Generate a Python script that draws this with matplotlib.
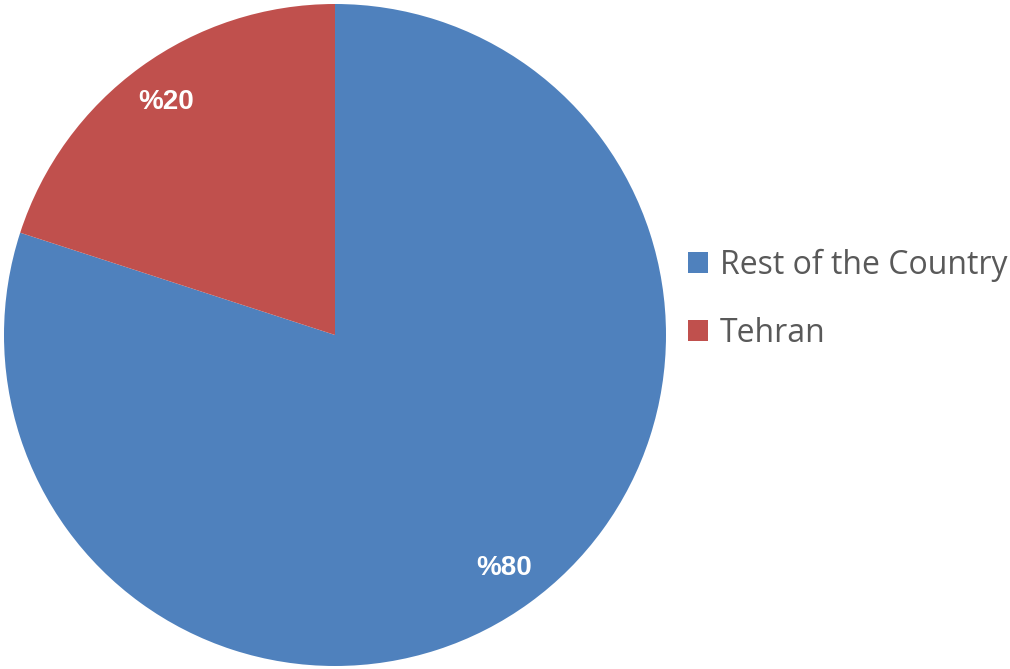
import numpy as np
import matplotlib.pyplot as plt
from matplotlib.patches import Patch

# data
labels = ['Rest of the Country', 'Tehran']
shares = [80, 20]
colors = ['#4F81BD', '#C0504D']
pct_labels = ['%80', '%20']

fig = plt.figure(figsize=(10.1, 6.69), dpi=100)
W, H = 1010, 669
cx, cy, r = 335, 335, 331
ax = fig.add_axes([(cx - r) / W, (H - cy - r) / H, 2 * r / W, 2 * r / H])

wedges, _ = ax.pie(shares, colors=colors, startangle=90, counterclock=False,
                   radius=1.0, wedgeprops={'linewidth': 0})
ax.set_xlim(-1, 1)
ax.set_ylim(-1, 1)
ax.set_aspect('equal')

# percentage labels inside the wedges
for w, txt in zip(wedges, pct_labels):
    mid = np.deg2rad((w.theta1 + w.theta2) / 2)
    ax.text(0.87 * np.cos(mid), 0.87 * np.sin(mid), txt, color='white',
            fontsize=20, fontweight='bold', family='Liberation Sans',
            ha='center', va='center')

handles = [Patch(facecolor=c, edgecolor='none') for c in colors]
fig.legend(handles, labels, loc='center left', bbox_to_anchor=(688 / W, 1 - 299 / H),
           frameon=False, labelcolor='#595959',
           prop={'family': 'Open Sans', 'size': 23},
           handlelength=0.63, handleheight=0.63, handletextpad=0.37,
           labelspacing=1.1, borderpad=0, borderaxespad=0)

fig.savefig('out.png', dpi=100)
